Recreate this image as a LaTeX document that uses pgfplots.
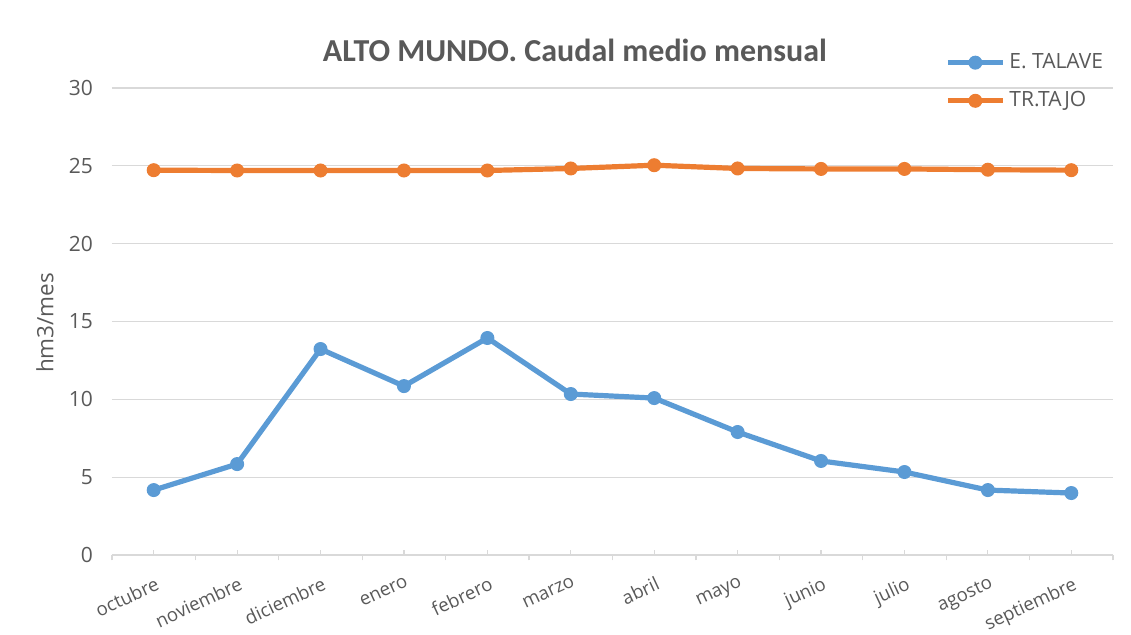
\documentclass[border=0pt]{standalone}
\usepackage{pgfplots}
\pgfplotsset{compat=1.18}
\usepackage{fontspec}
\setmainfont{Open Sans}
\newfontfamily\carlito{Carlito}
\definecolor{cblue}{HTML}{5B9BD5}
\definecolor{corange}{HTML}{ED7D31}
\definecolor{cgrid}{HTML}{D9D9D9}
\definecolor{ctext}{HTML}{595959}
\begin{document}
\begin{tikzpicture}
\path[use as bounding box] (-56pt,-40pt) rectangle (509.5pt,277.5pt);
\begin{axis}[
  scale only axis,
  width=500.5pt, height=233.5pt,
  xmin=-0.5, xmax=11.5,
  ymin=0, ymax=30,
  ytick={0,5,...,30},
  xtick={0,...,11},
  xticklabels={\mbox{octubre},\mbox{noviembre},\mbox{diciembre},\mbox{enero},\mbox{febrero},\mbox{marzo},\mbox{abril},\mbox{mayo},\mbox{junio},\mbox{julio},\mbox{agosto},\mbox{septiembre}},
  x tick label style={rotate=25, anchor=north east, font=\upshape\fontsize{9.3}{11}\selectfont, text=ctext, inner sep=0pt, yshift=-9.5pt, xshift=-4pt},
  y tick label style={font=\fontsize{10.5}{12}\selectfont, text=ctext, xshift=-6pt},
  /pgf/number format/assume math mode=true,
  axis x line*=bottom,
  axis y line*=left,
  x axis line style={draw=none},
  y axis line style={draw=none},
  ymajorgrids,
  grid style={cgrid, line width=0.6pt},
  ytick style={draw=none},
  xtick style={cgrid, line width=0.6pt},
  major tick length=2.7pt,
  tick align=inside,
  extra x ticks={-0.5,0.5,...,11.5},
  extra x tick labels={},
  extra x tick style={tick align=outside, grid=none, xtick style={cgrid, line width=0.6pt}},
  clip=false,
  legend style={at={(rel axis cs:0.832,1.083)}, anchor=north west, draw=none, fill=none,
    font=\fontsize{10.5}{12}\selectfont, text=ctext, row sep=6pt, inner sep=0pt},
  legend cell align=left,
  legend image code/.code={
    \draw[#1, mark=none] (0pt,0pt) -- (27.5pt,0pt);
    \draw[#1, only marks] plot coordinates {(13.75pt,0pt)};
  },
]
\draw[cgrid, line width=0.8pt] (axis cs:-0.5,0) -- (axis cs:11.5,0);
\addplot[cblue, line width=2.6pt, mark=*, mark size=3.2pt, mark options={line width=0.6pt}] coordinates {
(0,4.17) (1,5.84) (2,13.23) (3,10.85) (4,13.94) (5,10.34) (6,10.08) (7,7.9) (8,6.04) (9,5.33) (10,4.17) (11,3.98)};
\addlegendentry{E. TALAVE}
\addplot[corange, line width=2.6pt, mark=*, mark size=3.2pt, mark options={line width=0.6pt}] coordinates {
(0,24.72) (1,24.7) (2,24.7) (3,24.7) (4,24.7) (5,24.83) (6,25.04) (7,24.83) (8,24.8) (9,24.8) (10,24.75) (11,24.72)};
\addlegendentry{TR.TAJO}
\node[font=\carlito\bfseries\fontsize{16}{19}\selectfont, text=ctext] at (rel axis cs:0.4625,1.081) {ALTO MUNDO. Caudal medio mensual};
\node[rotate=90, font=\fontsize{11.25}{13}\selectfont, text=ctext] at (rel axis cs:-0.067,0.497) {hm3/mes};
\end{axis}
\end{tikzpicture}
\end{document}
